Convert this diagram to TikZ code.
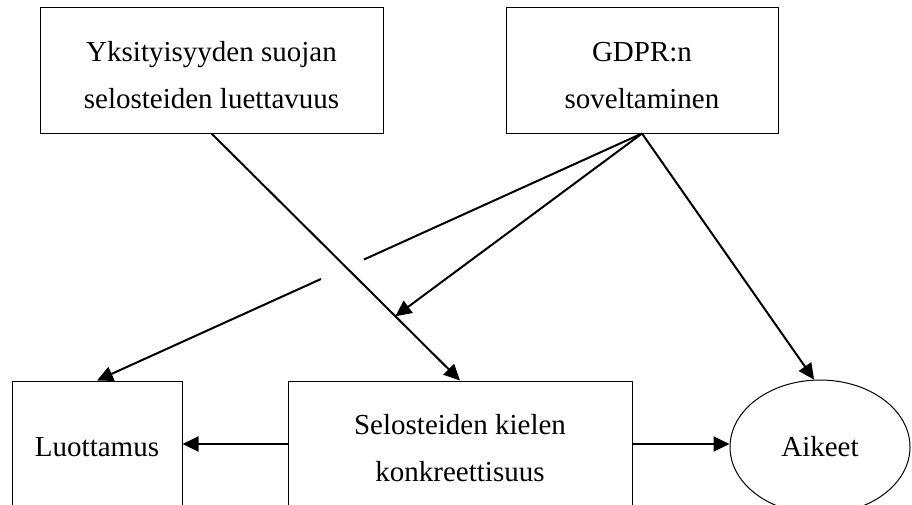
\documentclass[tikz,border=0pt]{standalone}
\usepackage{fontspec}
\setmainfont{Liberation Serif}
\usetikzlibrary{arrows.meta,calc,shapes.geometric}
\begin{document}
\begin{tikzpicture}[x=1pt,y=-1pt,
  box/.style={draw,line width=1pt,rectangle,inner sep=0pt,align=center,
    font=\fontsize{29}{47}\selectfont},
  oval/.style={draw,line width=1pt,ellipse,inner sep=0pt,
    font=\fontsize{29}{47}\selectfont},
  link/.style={line width=2pt,-{Triangle[length=16pt,width=15pt]}},
  plainlink/.style={line width=2pt}]
\clip (0,0) rectangle (912,504);
% upper factors (strut lowers the two-line text a little inside the box)
\node[box,minimum width=343pt,minimum height=126pt] (yks) at (211.5,70)
  {\rule{0pt}{30pt}Yksityisyyden suojan\\selosteiden luettavuus};
\node[box,minimum width=272pt,minimum height=126pt] (gdpr) at (642,70)
  {\rule{0pt}{30pt}GDPR:n\\soveltaminen};
% lower row
\node[box,minimum width=170pt,minimum height=132pt] (luo) at (97,447) {Luottamus};
\node[box,minimum width=344pt,minimum height=134pt] (mid) at (460,448)
  {Selosteiden kielen\\konkreettisuus};
\node[oval,minimum width=180pt,minimum height=134pt] (aik) at (820,447) {Aikeet};
% connectors
\coordinate (row) at (0,444);
\draw[link] (mid.west |- row) -- (luo.east |- row);
\draw[link] (mid.east |- row) -- (aik.west |- row);
\draw[link] (yks.south) -- (mid.north);
\coordinate (m) at ($(yks.south)!0.74!(mid.north)$);
\draw[link] (gdpr.south) -- (m);
\draw[link] (gdpr.south) -- (aik.95);
% crossing line, broken where it passes the other connector
\draw[plainlink] (gdpr.south) -- ($(gdpr.south)!0.51!(luo.north)$);
\draw[link] ($(gdpr.south)!0.589!(luo.north)$) -- (luo.north);
\end{tikzpicture}
\end{document}
